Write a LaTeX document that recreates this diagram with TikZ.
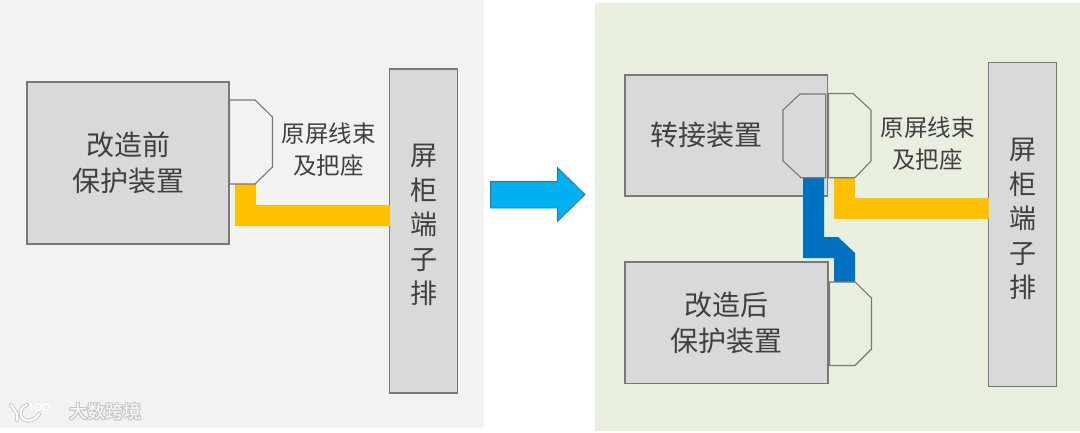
\documentclass[tikz,border=0pt]{standalone}
\usepackage{fontspec}
\newfontfamily\cjk{Noto Sans CJK SC}
\usetikzlibrary{positioning}
\definecolor{oldpanelcolor}{RGB}{242, 242, 242}
\definecolor{newpanelcolor}{RGB}{233, 239, 223}
\definecolor{boxcolor}{RGB}{217, 217, 217}
\definecolor{edgecolor}{RGB}{120, 120, 120}
\definecolor{labelcolor}{RGB}{64, 64, 64}
\definecolor{yellowcolor}{RGB}{255, 192, 0}
\definecolor{bluecolor}{RGB}{0, 112, 192}
\definecolor{arrowcolor}{RGB}{0, 176, 240}
\definecolor{arrowedge}{RGB}{40, 120, 160}
\definecolor{markcolor}{RGB}{200, 200, 200}
\tikzset{
panel/.style={
  rectangle,
  anchor=north west,
  inner sep=0pt,
  outer sep=0pt,
  draw=none
},
devblock/.style={
  rectangle,
  anchor=north west,
  inner sep=0pt,
  outer sep=0pt,
  draw=edgecolor,
  line width=1.2pt,
  fill=boxcolor,
  align=center,
  text=labelcolor,
  font=\cjk\fontsize{28}{36}\selectfont
},
barblock/.style={
  devblock,
  minimum width=68pt,
  minimum height=324pt
},
barlabel/.style={
  align=center,
  text=labelcolor,
  font=\cjk\fontsize{27}{34.5}\selectfont
},
plugs/.style={
  draw=edgecolor,
  line width=1.1pt
},
plugnote/.style={
  align=center,
  text=labelcolor,
  font=\cjk\fontsize{23.5}{32}\selectfont
},
cable/.style={
  yellowcolor,
  line width=21pt
},
markhalo/.style={
  markcolor,
  line width=4pt,
  line cap=round
},
markline/.style={
  white,
  line width=2.2pt,
  line cap=round
},
marktext/.style={
  font=\cjk\fontsize{18}{18}\selectfont
}
}
\begin{document}
\begin{tikzpicture}[x=1pt, y=-1pt]
  \useasboundingbox (0,0) rectangle (1080,432);

  % Panels
  \node[panel, fill=oldpanelcolor, minimum width=484pt, minimum height=428pt] (oldpanel) at (0,0) {};
  \node[panel, fill=newpanelcolor, minimum width=485pt, minimum height=428pt] (newpanel) at (595,3) {};

  % Before
  \node[devblock, minimum width=202pt, minimum height=162pt] (olddev) at (27,82) {改造前\\保护装置};
  \node[barblock] (oldbar) at (389.5,69) {};
  \node[barlabel] (oldbartext) at (423.5,225) {屏\\柜\\端\\子\\排};
  \coordinate (oldfoot) at (245.5,184);
  \draw[cable] (oldfoot) |- (oldbar.west |- 0,215);
  \draw[plugs] (229.5,100) -- (255,100) -- (272.5,117) -- (272.5,167) -- (255,184) -- (229.5,184) -- cycle;
  \node[plugnote] (oldnote) at (328.5,150) {原屏线束\\及把座};

  % Arrow between panels
  \draw[fill=arrowcolor, draw=arrowedge, line width=0.8pt]
    (490.5,181.5) -- (557.5,181.5) -- (557.5,167.5) -- (585,194.5)
    -- (557.5,221.5) -- (557.5,208) -- (490.5,208) -- cycle;

  % After
  \node[devblock, minimum width=202.5pt, minimum height=121pt] (transfer) at (625,75) {};
  \node[devblock, draw=none, fill=none, anchor=center] (transfertext) at (706.5,135) {转接装置};
  \node[devblock, minimum width=203pt, minimum height=121.5pt] (newdev) at (625,262) {改造后\\保护装置};
  \node[barblock] (newbar) at (988.5,62.5) {};
  \node[barlabel] (newbartext) at (1022.5,219) {屏\\柜\\端\\子\\排};
  \coordinate (newfoot) at (844.5,178);
  \draw[cable] (newfoot) |- (newbar.west |- 0,208.5);
  \fill[bluecolor] (803,178) -- (824,178) -- (824,237) -- (838,237) -- (855,253)
    -- (855,282) -- (834,282) -- (834,258) -- (803,258) -- cycle;
  \draw[plugs] (800,94) -- (825.7,94) -- (825.7,177.7) -- (801,177.7) -- (783,161) -- (783,110) -- cycle;
  \draw[plugs] (828.5,93.5) -- (853,93.5) -- (871,110) -- (871,161) -- (855,177.7) -- (828.5,177.7) -- cycle;
  \draw[plugs] (829.5,282) -- (855,282) -- (871.5,298) -- (871.5,349) -- (855,365.5) -- (829.5,365.5) -- cycle;
  \node[plugnote] (newnote) at (927.5,144) {原屏线束\\及把座};

  % Watermark
  \foreach \dx/\dy [count=\i] in {-1/0, 1/0, 0/-1, 0/1, 1/1, -1/-1, 1/-1, -1/1} {
    \node[marktext, text=markcolor] (markhalo\i) at (105+\dx,412+\dy) {大数跨境};
  }
  \node[marktext, text=white] (mark) at (105,412) {大数跨境};
  \foreach \stroke in {markhalo, markline} {
    \draw[\stroke] (11,405) -- (17,414) (17,414) -- (17,420);
    \draw[\stroke] (27,405) .. controls (17,407) and (19,424) .. (32,420) .. controls (36,418) and (38,416) .. (39,414);
    \draw[\stroke, line width=0.6*3pt] (31,403) -- (31,411);
    \draw[\stroke, line width=0.6*3pt] (38,407) circle (3.5) (45.5,407) circle (3.5);
  }
\end{tikzpicture}
\end{document}
